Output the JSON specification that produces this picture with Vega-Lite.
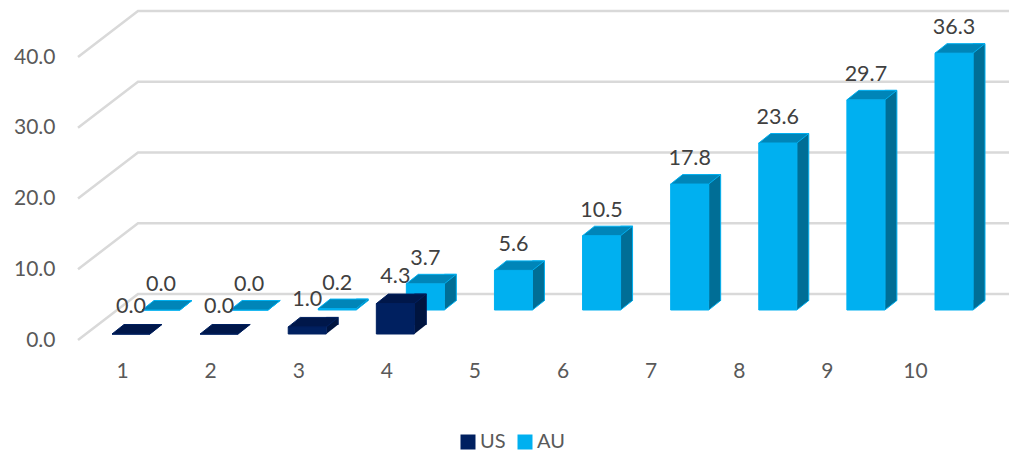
{
"$schema":"https://vega.github.io/schema/vega-lite/v6.json",
"width":949,"height":358,
"autosize":{"type":"none"},
"padding":{"left":60,"top":0,"right":0,"bottom":92},
"background":"white",
"config":{"view":{"stroke":null},"text":{"font":"Lato"}},
"datasets":{
"bars":[
{"cat":1,"series":"US","value":0.0},{"cat":2,"series":"US","value":0.0},{"cat":3,"series":"US","value":1.0},{"cat":4,"series":"US","value":4.3},
{"cat":1,"series":"AU","value":0.0},{"cat":2,"series":"AU","value":0.0},{"cat":3,"series":"AU","value":0.2},{"cat":4,"series":"AU","value":3.7},{"cat":5,"series":"AU","value":5.6},{"cat":6,"series":"AU","value":10.5},{"cat":7,"series":"AU","value":17.8},{"cat":8,"series":"AU","value":23.6},{"cat":9,"series":"AU","value":29.7},{"cat":10,"series":"AU","value":36.3}
],
"gridlines":[{"cat":1,"value":0},{"cat":1,"value":10},{"cat":1,"value":20},{"cat":1,"value":30},{"cat":1,"value":40}]
},
"encoding":{
"x":{"field":"cat","type":"quantitative","scale":{"domain":[1,10],"range":[62,855],"nice":false,"zero":false,"padding":0},
"axis":{"values":[1,2,3,4,5,6,7,8,9,10],"format":"d","title":null,"grid":false,"domain":false,"ticks":false,"labelFlush":false,"labelFont":"Lato","labelFontSize":21,"labelColor":"#595959","labelPadding":2}},
"y":{"field":"value","type":"quantitative","stack":null,"scale":{"domain":[0,40],"range":[340,57],"nice":false,"zero":false},
"axis":{"values":[0,10,20,30,40],"format":".1f","title":null,"grid":false,"domain":false,"ticks":false,"labelFont":"Lato","labelFontSize":21,"labelColor":"#595959","labelPadding":5}}
},
"layer":[
{"data":{"name":"gridlines"},
 "mark":{"type":"point","shape":"M-44,0L16,-46L887,-46","size":4,"filled":false,"stroke":"#D9D9D9","strokeWidth":2.5,"opacity":1}},

{"data":{"name":"bars"},"transform":[{"filter":"datum.series==='AU'"}],
 "mark":{"type":"bar","orient":"vertical","width":12,"xOffset":64,"yOffset":-39.5,"y2Offset":-39.5,"fill":"#006E96","stroke":"#00B0F0","strokeWidth":1},
 "encoding":{"y2":{"datum":0}}},
{"data":{"name":"bars"},"transform":[{"filter":"datum.series==='AU'"}],
 "mark":{"type":"point","shape":"M19,0L31,-9.5L31,-10L19,-10Z","size":4,"filled":true,"fill":"#006E96","strokeWidth":0,"opacity":1,"xOffset":39,"yOffset":-30},
 "encoding":{"y":{"datum":0,"type":"quantitative"}}},
{"data":{"name":"bars"},"transform":[{"filter":"datum.series==='AU'"}],
 "mark":{"type":"point","shape":"M19,0L31,-9.5","size":4,"filled":false,"stroke":"#00B0F0","strokeWidth":1,"opacity":1,"xOffset":39,"yOffset":-30},
 "encoding":{"y":{"datum":0,"type":"quantitative"}}},
{"data":{"name":"bars"},"transform":[{"filter":"datum.series==='AU'"}],
 "mark":{"type":"bar","orient":"vertical","width":38,"xOffset":39,"yOffset":-30,"y2Offset":-30,"strokeWidth":1},
 "encoding":{"y2":{"datum":0},"color":{"field":"series","type":"nominal","scale":{"domain":["US","AU"],"range":["#002060","#00B0F0"]},
   "legend":{"title":null,"orient":"none","direction":"horizontal","legendX":398,"legendY":432,"symbolType":"square","symbolSize":225,"symbolStrokeWidth":0,"symbolOpacity":1,"labelFont":"Lato","labelFontSize":20,"labelColor":"#595959","labelOffset":2,"columnPadding":9}},
   "stroke":{"field":"series","type":"nominal","legend":null,"scale":{"domain":["US","AU"],"range":["#002060","#00B0F0"]}}}},
{"data":{"name":"bars"},"transform":[{"filter":"datum.series==='AU'"}],
 "mark":{"type":"point","shape":"M-19,0L19,0L31,-9.5L-7,-9.5Z","size":4,"filled":true,"fill":"#0085B8","stroke":"#00B0F0","strokeWidth":1,"opacity":1,"xOffset":39,"yOffset":-30}},

{"data":{"name":"bars"},"transform":[{"filter":"datum.series==='US'"}],
 "mark":{"type":"bar","orient":"vertical","width":12,"xOffset":34,"yOffset":-15.5,"y2Offset":-15.5,"fill":"#00143F","stroke":"#002060","strokeWidth":1},
 "encoding":{"y2":{"datum":0}}},
{"data":{"name":"bars"},"transform":[{"filter":"datum.series==='US'"}],
 "mark":{"type":"point","shape":"M19,0L31,-9.5L31,-10L19,-10Z","size":4,"filled":true,"fill":"#00143F","strokeWidth":0,"opacity":1,"xOffset":9,"yOffset":-6},
 "encoding":{"y":{"datum":0,"type":"quantitative"}}},
{"data":{"name":"bars"},"transform":[{"filter":"datum.series==='US'"}],
 "mark":{"type":"bar","orient":"vertical","width":38,"xOffset":9,"yOffset":-6,"y2Offset":-6,"strokeWidth":1},
 "encoding":{"y2":{"datum":0},"color":{"field":"series","type":"nominal"},"stroke":{"field":"series","type":"nominal","legend":null}}},
{"data":{"name":"bars"},"transform":[{"filter":"datum.series==='US'"}],
 "mark":{"type":"point","shape":"M-19,0L19,0L31,-9.5L-7,-9.5Z","size":4,"filled":true,"fill":"#00174A","stroke":"#002060","strokeWidth":1,"opacity":1,"xOffset":9,"yOffset":-6}},

{"data":{"name":"bars"},"transform":[{"filter":"datum.series==='AU'"}],
 "mark":{"type":"text","font":"Lato","fontSize":21.5,"fill":"#404040","xOffset":39,"yOffset":-55},
 "encoding":{"text":{"field":"value","type":"quantitative","format":".1f"}}},
{"data":{"name":"bars"},"transform":[{"filter":"datum.series==='US'"}],
 "mark":{"type":"text","font":"Lato","fontSize":21.5,"fill":"#404040","xOffset":9,"yOffset":-33},
 "encoding":{"text":{"field":"value","type":"quantitative","format":".1f"}}}
]
}
